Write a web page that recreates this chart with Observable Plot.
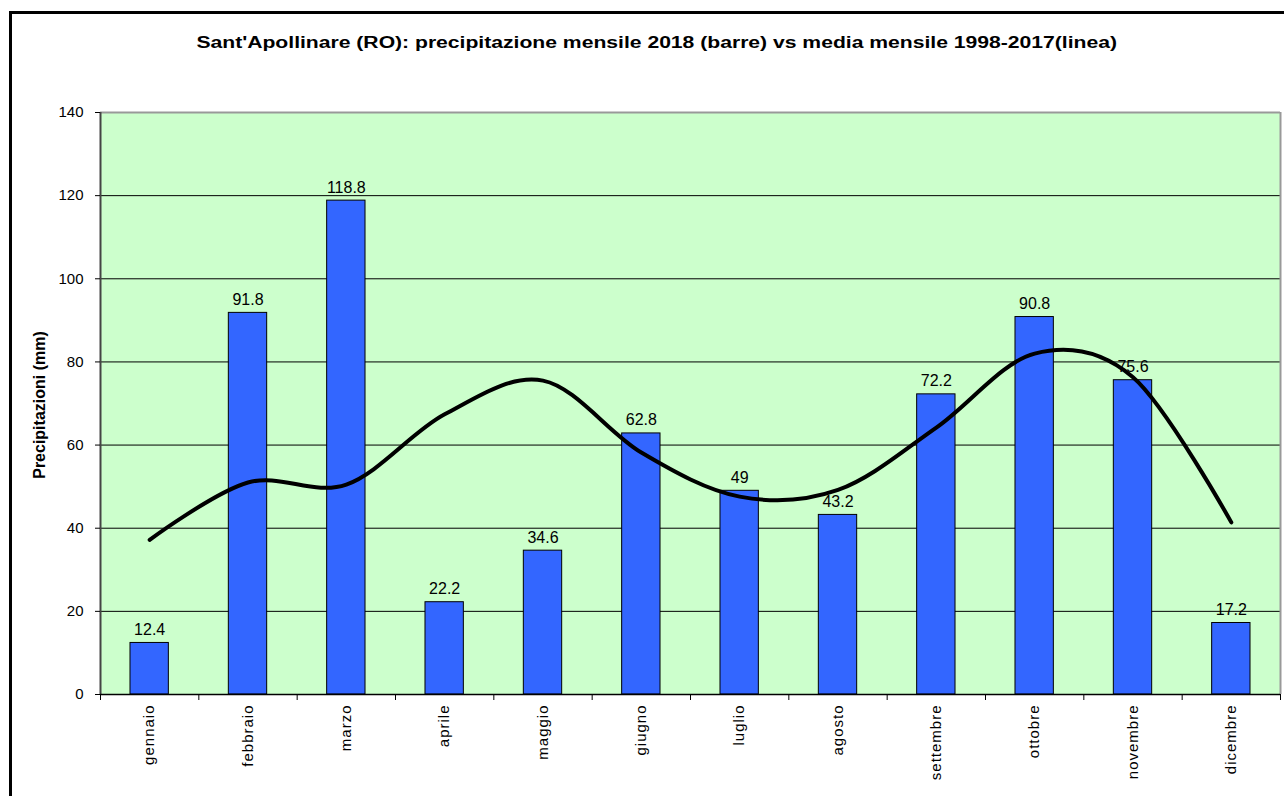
<!DOCTYPE html>
<html><head><meta charset="utf-8">
<script src="https://cdn.jsdelivr.net/npm/d3@7"></script>
<script src="https://cdn.jsdelivr.net/npm/@observablehq/plot@0.6"></script>
<style>
body{margin:0;width:1284px;height:796px;overflow:hidden;background:#fff;font-family:"Liberation Sans",Arial,sans-serif;position:relative}
#frame{position:absolute;left:9px;top:11px;width:1400px;height:900px;border:3px solid #000;box-sizing:border-box}
#titlewrap{position:absolute;left:15px;width:1284px;top:34px;text-align:center}
#title{display:inline-block;font-weight:bold;font-size:16px;color:#000;transform:scaleX(1.32);transform-origin:center;white-space:nowrap}
#ylab{position:absolute;left:40px;top:405px;transform:translate(-50%,-50%) rotate(-90deg);font-weight:bold;font-size:16px;white-space:nowrap;color:#000}
#chart{position:absolute;left:0;top:70px}
#chart svg g[aria-label="x-axis tick label"] text{letter-spacing:1px}
</style></head><body>
<div id="frame"></div>
<div id="titlewrap"><span id="title">Sant'Apollinare (RO): precipitazione mensile 2018 (barre) vs media mensile 1998-2017(linea)</span></div>
<div id="ylab">Precipitazioni (mm)</div>
<div id="chart"></div>
<script>
const months = ["gennaio","febbraio","marzo","aprile","maggio","giugno","luglio","agosto","settembre","ottobre","novembre","dicembre"];
const rain2018 = [12.4, 91.8, 118.8, 22.2, 34.6, 62.8, 49, 43.2, 72.2, 90.8, 75.6, 17.2];
const mean9817 = [37.2, 51.0, 50.5, 67.4, 75.5, 58.2, 47.6, 49.2, 64.2, 82.0, 76.3, 41.4];
const yTicks = [0, 20, 40, 60, 80, 100, 120, 140];

const data = months.map((m, k) => ({month: m, i: k + 1, v: rain2018[k], avg: mean9817[k]}));
const idx = data.map(d => d.i);
const bounds = [0.5, ...idx.map(i => i + 0.5)];
const half = 0.195;

const chart = Plot.plot({
  width: 1284,
  height: 726,
  marginTop: 42,
  marginBottom: 102,
  marginLeft: 100,
  marginRight: 4,
  style: {fontFamily: "'Liberation Sans', Arial, sans-serif", fontSize: "14px", color: "#000", background: "transparent"},
  x: {type: "linear", domain: [0.5, 12.5], label: null},
  y: {domain: [0, 140], label: null},
  marks: [
    Plot.frame({fill: "#CCFFCC", stroke: null}),
    Plot.ruleY(yTicks.filter(t => t > 0 && t < 140), {stroke: "#000", strokeWidth: 1}),
    Plot.ruleY([140], {stroke: "#999", strokeWidth: 2}),
    Plot.ruleX([12.5], {stroke: "#999", strokeWidth: 2}),
    Plot.ruleX([0.5], {stroke: "#444", strokeWidth: 2}),
    Plot.rectY(data, {x1: d => d.i - half, x2: d => d.i + half, y: "v", fill: "#3366FF", stroke: "#000", strokeWidth: 1}),
    Plot.ruleY([0], {stroke: "#000", strokeWidth: 1.5}),
    Plot.line(data, {x: "i", y: "avg", curve: "cardinal", stroke: "#000", strokeWidth: 4, strokeLinecap: "round"}),
    Plot.text(data, {x: "i", y: "v", text: d => String(d.v), dy: -8, lineAnchor: "bottom", fontSize: 16, fill: "#000"}),
    Plot.axisY({ticks: yTicks, tickSize: 5, tickPadding: 12, fontSize: 15, label: null, tickFormat: d => String(d)}),
    Plot.axisX({ticks: bounds, tickSize: 6, label: null, tickFormat: () => ""}),
    Plot.axisX({ticks: idx, tickSize: 0, tickPadding: 10, tickRotate: -90, fontSize: 15, label: null, tickFormat: i => months[i - 1]})
  ]
});
document.getElementById("chart").appendChild(chart);
</script>
</body></html>
